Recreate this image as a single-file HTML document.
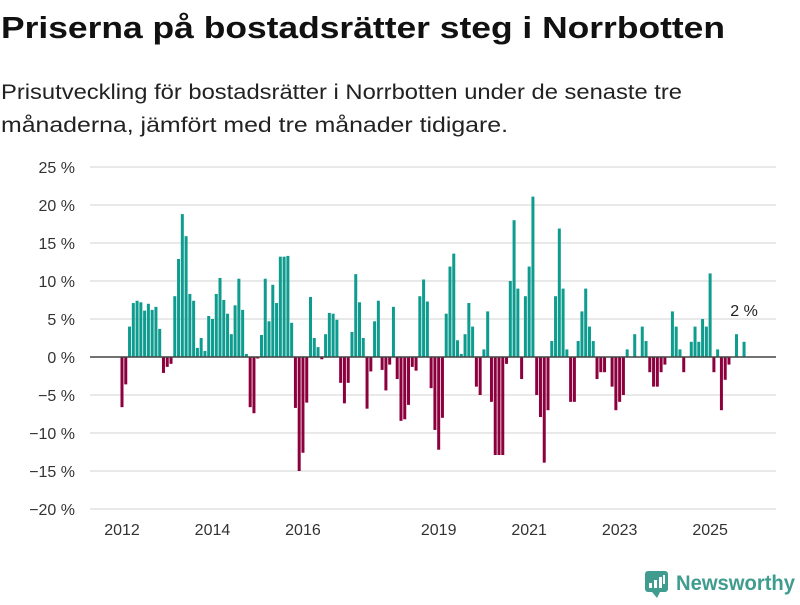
<!DOCTYPE html>
<html><head><meta charset="utf-8"><style>
body{margin:0;background:#fff;width:800px;height:600px;overflow:hidden;font-family:"Liberation Sans",sans-serif}
</style></head><body>
<svg id="chart" width="800" height="600" xmlns="http://www.w3.org/2000/svg" font-family="Liberation Sans, DejaVu Sans, sans-serif">
<text x="1" y="38" font-size="31" font-weight="bold" fill="#111" textLength="724" lengthAdjust="spacingAndGlyphs">Priserna på bostadsrätter steg i Norrbotten</text>
<text x="1" y="99" font-size="21" fill="#222" textLength="681" lengthAdjust="spacingAndGlyphs">Prisutveckling för bostadsrätter i Norrbotten under de senaste tre</text>
<text x="1" y="132" font-size="21" fill="#222" textLength="507" lengthAdjust="spacingAndGlyphs">månaderna, jämfört med tre månader tidigare.</text>
<g id="grid"></g><g id="bars"></g><g id="axes"></g>
<g>
<rect x="645" y="571" width="23" height="21" rx="3" fill="#3f9c8f"/>
<polygon points="652,592 657,598 660,592" fill="#3f9c8f"/>
<rect x="649" y="583" width="3" height="5" fill="#fff"/><rect x="654" y="580" width="3" height="8" fill="#fff"/><rect x="659" y="577" width="3" height="11" fill="#fff"/><rect x="663" y="575" width="2" height="9" fill="#fff"/>
<text x="676" y="590" font-size="21" font-weight="bold" fill="#3f9c8f" textLength="119" lengthAdjust="spacingAndGlyphs">Newsworthy</text>
</g>
</svg>
<script>
const startYear = 2012;
const values = [-6.6,-3.6,4.0,7.1,7.4,7.2,6.1,7.0,6.2,6.6,3.7,-2.1,-1.3,-0.9,8.0,12.9,18.8,15.9,8.3,7.4,1.2,2.5,0.8,5.4,5.0,8.3,10.4,7.5,5.7,3.0,6.8,10.3,6.2,0.4,-6.6,-7.4,-0.2,2.9,10.3,4.7,
9.5,7.1,13.2,13.2,13.3,4.5,-6.7,-15.0,-12.6,-6.0,7.9,2.5,1.3,-0.3,3.0,5.8,5.7,4.9,-3.4,-6.1,-3.4,3.3,10.9,7.2,2.5,-6.8,-1.9,4.7,7.4,-1.7,-4.4,-1.0,6.6,-2.9,-8.4,-8.2,-6.3,-1.3,-1.8,8.0,
10.2,7.3,-4.1,-9.6,-12.2,-8.0,5.7,11.9,13.6,2.2,0.4,3.0,7.1,4.0,-3.9,-5.0,1.0,6.0,-5.9,-12.9,-12.9,-12.9,-0.9,10.0,18.0,9.0,-2.9,8.0,11.9,21.1,-5.0,-7.9,-13.9,-7.0,2.1,8.0,16.9,9.0,1.0,-5.9,
-5.9,2.1,6.0,9.0,4.0,2.1,-2.9,-2.0,-2.0,0,-3.9,-7.0,-5.9,-5.0,1.0,0,3.0,0,4.0,2.1,-2.0,-3.9,-3.9,-2.0,-1.0,0,6.0,4.0,1.0,-2.0,0,2.0,4.0,2.0,5.0,4.0,11.0,-2.0,1.0,-7.0,-3.0,-1.0,0,3.0,0,2.0];
const yTicks = [25,20,15,10,5,0,-5,-10,-15,-20];
const yTickLabels = ["25 %","20 %","15 %","10 %","5 %","0 %","−5 %","−10 %","−15 %","−20 %"];
const xTickYears = [2012,2014,2016,2019,2021,2023,2025];
const lastLabel = "2 %";
const NS="http://www.w3.org/2000/svg";
const y = v => 357 - v*7.6;
const x = i => 122 + i*3.77;
function mk(t,a,p){const e=document.createElementNS(NS,t);for(const k in a)e.setAttribute(k,a[k]);p.appendChild(e);return e;}
const grid=document.getElementById('grid'),bars=document.getElementById('bars'),axes=document.getElementById('axes');
yTicks.forEach((t,k)=>{
 if(t!==0){const l=mk('line',{x1:90,x2:776,y1:y(t),y2:y(t),stroke:'#dcdcdc','stroke-width':1.3},grid);
 
 }
 const tx=mk('text',{x:75,y:y(t)+6,'text-anchor':'end','font-size':16,fill:'#333'},axes);tx.textContent=yTickLabels[k];
 
 
});
values.forEach((v,i)=>{
 const r=mk('rect',{x:x(i)-1.5,width:3,y:Math.min(y(v),y(0)),height:Math.abs(y(v)-y(0)),fill:v>=0?'#0e9c8f':'#8c003d'},bars);
 
 
});
const z=mk('line',{x1:90,x2:776,y1:y(0),y2:y(0),stroke:'#444','stroke-width':1.6},axes);


xTickYears.forEach(yr=>{
 const t=mk('text',{x:x((yr-startYear)*12),y:535,'text-anchor':'middle','font-size':16,fill:'#333'},axes);t.textContent=yr;
 
 
});
const li=values.length-1;
const ll=mk('text',{x:x(li),y:y(values[li])-26,'text-anchor':'middle','font-size':16,fill:'#222'},axes);ll.textContent=lastLabel;


</script>
</body></html>
